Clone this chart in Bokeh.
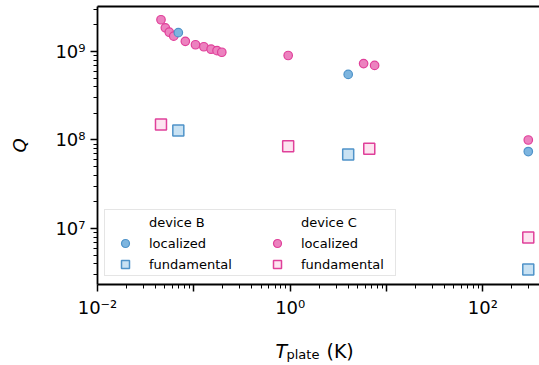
from bokeh.plotting import figure
from bokeh.layouts import column
from bokeh.models import FixedTicker, LogAxis, Legend, LegendItem, Range1d
from bokeh.core.properties import value
from bokeh.embed import file_html
from bokeh.resources import INLINE

# ---- data ----
b_loc_T = [0.069, 4.0, 296]
b_loc_Q = [1.63e9, 5.5e8, 7.4e7]
b_fund_T = [0.069, 4.0, 296]
b_fund_Q = [1.28e8, 6.85e7, 3.45e6]
c_loc_T = [0.0456, 0.0506, 0.0556, 0.0618, 0.0816, 0.104, 0.127, 0.151, 0.174, 0.195, 0.953, 5.78, 7.52, 296]
c_loc_Q = [2.28e9, 1.85e9, 1.65e9, 1.49e9, 1.30e9, 1.19e9, 1.13e9, 1.06e9, 1.02e9, 0.98e9, 9.0e8, 7.3e8, 6.95e8, 1.0e8]
c_fund_T = [0.0456, 0.953, 6.62, 296]
c_fund_Q = [1.5e8, 8.5e7, 7.95e7, 7.9e6]

x_major = [1e-2, 1e-1, 1e0, 1e1, 1e2]
x_major_labels = ["10\u207b\u00b2", "", "10\u2070", "", "10\u00b2"]
y_major = [1e7, 1e8, 1e9]
y_major_labels = ["10\u2077", "10\u2078", "10\u2079"]
legend_headers = ["device B", "device C"]
legend_labels = ["localized", "fundamental"]
x_label_parts = ["T", "plate", "(K)"]

x_minor = [m * 10.0 ** e for e in range(-2, 3) for m in range(2, 10)]
y_minor = [m * 10.0 ** e for e in range(6, 10) for m in range(2, 10)]

BLUE_EDGE, BLUE_FILL, BLUE_SQ = "#4f93c9", "#7db5df", "#c9e2f3"
PINK_EDGE, PINK_FILL, PINK_SQ = "#e0409a", "#ec82bf", "#fde4f0"

p = figure(width=539, height=320, x_axis_type="log", y_axis_type="log",
           x_range=(1e-2, 387), y_range=(2.33e6, 3.22e9),
           output_backend="svg", toolbar_location=None,
           min_border_left=97, min_border_right=0, min_border_top=6, min_border_bottom=36)
p.xgrid.visible = False
p.ygrid.visible = False
p.outline_line_color = None
p.background_fill_color = "white"
p.border_fill_color = "white"

p.xaxis.ticker = FixedTicker(ticks=x_major, minor_ticks=x_minor)
p.yaxis.ticker = FixedTicker(ticks=y_major, minor_ticks=y_minor)
p.xaxis.major_label_overrides = dict(zip(x_major, x_major_labels))
p.yaxis.major_label_overrides = dict(zip(y_major, y_major_labels))

for ax in [p.xaxis[0], p.yaxis[0]]:
    ax.axis_line_width = 1.8
    ax.axis_line_color = "black"
    ax.major_tick_line_width = 1.5
    ax.minor_tick_line_width = 1.0
    ax.major_tick_line_color = "black"
    ax.minor_tick_line_color = "black"
    ax.major_tick_in = 0
    ax.major_tick_out = 7
    ax.minor_tick_in = 0
    ax.minor_tick_out = 4
    ax.major_label_text_font = "DejaVu Sans"
    ax.major_label_text_font_size = "18px"
    ax.major_label_text_color = "black"
    ax.major_label_standoff = 5

p.yaxis.axis_label = "Q"
p.yaxis.axis_label_text_font = "DejaVu Sans"
p.yaxis.axis_label_text_font_style = "italic"
p.yaxis.axis_label_text_font_size = "18px"
p.yaxis.axis_label_text_color = "black"
p.yaxis.axis_label_standoff = 22

top = LogAxis(ticker=FixedTicker(ticks=[]), axis_line_width=2, axis_line_color="black",
              major_tick_out=0, minor_tick_out=0, major_label_standoff=0,
              major_label_text_font_size="0px")
p.add_layout(top, "above")

# ---- glyphs ----
hdr = p.scatter(x=[], y=[], size=0, fill_alpha=0, line_alpha=0)
r_c_loc = p.scatter(c_loc_T, c_loc_Q, marker="circle", size=8.5, fill_color=PINK_FILL,
                    line_color=PINK_EDGE, line_width=1.2)
r_c_fund = p.scatter(c_fund_T, c_fund_Q, marker="square", size=11, fill_color=PINK_SQ,
                     line_color=PINK_EDGE, line_width=1.5)
r_b_loc = p.scatter(b_loc_T, b_loc_Q, marker="circle", size=8.5, fill_color=BLUE_FILL,
                    line_color=BLUE_EDGE, line_width=1.2)
r_b_fund = p.scatter(b_fund_T, b_fund_Q, marker="square", size=11, fill_color=BLUE_SQ,
                     line_color=BLUE_EDGE, line_width=1.5)

# ---- legend: background box + two columns ----
L0 = Legend(items=[LegendItem(label=" ", renderers=[hdr])], location=(7, 8),
            padding=0, spacing=0, margin=0, glyph_width=1, glyph_height=65,
            label_width=289, label_height=65, label_standoff=0,
            border_line_color="#cccccc", border_line_width=1.5,
            background_fill_color="white", background_fill_alpha=0.85)
p.add_layout(L0, "center")

common = dict(padding=0, spacing=1, margin=0, glyph_width=20, glyph_height=20,
              label_height=20, label_standoff=14, border_line_color=None,
              background_fill_alpha=0, label_text_font="DejaVu Sans",
              label_text_font_size="13px", label_text_color="black")
L1 = Legend(items=[LegendItem(label=legend_headers[0], renderers=[hdr]),
                   LegendItem(label=legend_labels[0], renderers=[r_b_loc]),
                   LegendItem(label=legend_labels[1], renderers=[r_b_fund])],
            location=(18, 10), **common)
L2 = Legend(items=[LegendItem(label=legend_headers[1], renderers=[hdr]),
                   LegendItem(label=legend_labels[0], renderers=[r_c_loc]),
                   LegendItem(label=legend_labels[1], renderers=[r_c_fund])],
            location=(170, 10), **common)
p.add_layout(L1, "center")
p.add_layout(L2, "center")

# ---- x axis label strip: T_plate (K) (frame aligned with the main plot: 97..539) ----
p2 = figure(width=539, height=45, x_range=Range1d(97, 539), y_range=Range1d(45, 0),
            output_backend="svg", toolbar_location=None,
            x_axis_location=None, y_axis_location=None,
            min_border=0, min_border_left=97, min_border_right=0,
            min_border_top=0, min_border_bottom=0)
p2.xgrid.visible = False
p2.ygrid.visible = False
p2.outline_line_color = None
p2.border_fill_color = "white"
txt = dict(text_font=value("DejaVu Sans"), text_color="black", text_baseline="alphabetic")
p2.text(x=[275], y=[30], text=[x_label_parts[0]], text_font_style="italic",
        text_font_size="19px", **txt)
p2.text(x=[286], y=[34], text=[x_label_parts[1]], text_font_size="13px", **txt)
p2.text(x=[326], y=[30], text=[x_label_parts[2]], text_font_size="19px", **txt)

layout = column(p, p2, spacing=0)
open("out.html", "w").write(file_html(layout, INLINE))
